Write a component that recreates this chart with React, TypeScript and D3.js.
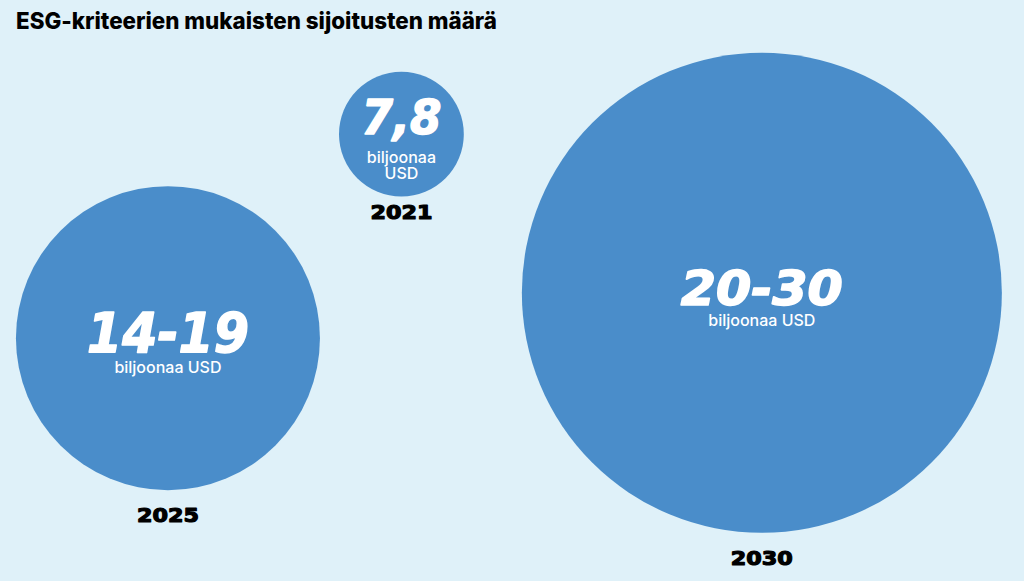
import * as d3 from 'd3'
import { useEffect, useRef } from 'react'

// chart data
const years = ['2021', '2025', '2030']
const valueLabels = ['7,8', '14-19', '20-30']
const upperValues = [7.8, 19, 30]
const unitLabel = 'biljoonaa USD'
const title = 'ESG-kriteerien mukaisten sijoitusten määrä'

// hand placed bubble layout (fractions of chart width / height)
const layoutX = [0.392, 0.164, 0.744]
const layoutY = [0.231, 0.582, 0.504]
const numberSize = [48, 55, 48]
const yearGap = [22, 32, 32]

const width = 1024
const height = 581

export default function App() {
    const svgRef = useRef<SVGSVGElement>(null)

    useEffect(() => {
        if (!svgRef.current) return
        const svg = d3.select(svgRef.current)
        svg.selectAll('*').remove()

        svg.append('rect')
            .attr('width', width)
            .attr('height', height)
            .attr('fill', '#dff1f9')

        svg.append('text')
            .attr('x', 16)
            .attr('y', 29)
            .attr('fill', '#000')
            .style('font-family', 'Inter, "Noto Sans", sans-serif')
            .style('font-weight', 800)
            .style('font-size', '23px')
            .attr('textLength', 481)
            .attr('lengthAdjust', 'spacingAndGlyphs')
            .text(title)

        const x = d3.scaleLinear().domain([0, 1]).range([0, width])
        const y = d3.scaleLinear().domain([0, 1]).range([0, height])
        // radius grows linearly with the upper estimate
        const r = d3.scaleLinear().domain([0, 30]).range([0, 240])

        const data = years.map((year, i) => ({
            year,
            label: valueLabels[i],
            value: upperValues[i],
            cx: x(layoutX[i]),
            cy: y(layoutY[i]),
            size: numberSize[i],
            gap: yearGap[i],
        }))

        const bubble = svg
            .selectAll('.bubble')
            .data(data)
            .enter()
            .append('g')
            .attr('class', 'bubble')
            .attr('transform', (d) => `translate(${d.cx},${d.cy})`)

        bubble
            .append('circle')
            .attr('r', (d) => r(d.value))
            .attr('fill', '#4a8dca')

        // big value label
        bubble
            .append('text')
            .attr('text-anchor', 'middle')
            .attr('y', (d) => (r(d.value) < 100 ? 0 : d.size * 0.25))
            .attr('fill', '#fff')
            .attr('stroke', '#fff')
            .attr('stroke-width', 1.6)
            .attr('stroke-linejoin', 'round')
            .style('font-family', '"DejaVu Sans", sans-serif')
            .style('font-weight', 700)
            .style('font-style', 'italic')
            .style('font-size', (d) => `${d.size}px`)
            .attr('textLength', (d) => (d.label.length === 3 ? 80 : 162))
            .attr('lengthAdjust', 'spacingAndGlyphs')
            .text((d) => d.label)

        // unit label, split into two lines in the small bubble
        bubble.each(function (d) {
            const g = d3.select(this)
            const small = r(d.value) < 100
            const lines = small ? unitLabel.split(' ') : [unitLabel]
            const top = small ? 29 : d.size * 0.25 + 21
            lines.forEach((line, j) => {
                g.append('text')
                    .attr('text-anchor', 'middle')
                    .attr('y', top + j * 16)
                    .attr('fill', '#fff')
                    .style('font-family', 'Inter, "Noto Sans", sans-serif')
                    .style('font-weight', 500)
                    .style('font-size', '16px')
                    .text(line)
            })
        })

        // year under each bubble
        bubble
            .append('text')
            .attr('text-anchor', 'middle')
            .attr('y', (d) => r(d.value) + d.gap)
            .attr('fill', '#000')
            .attr('stroke', '#000')
            .attr('stroke-width', 1.2)
            .attr('stroke-linejoin', 'round')
            .style('font-family', '"DejaVu Sans", sans-serif')
            .style('font-weight', 700)
            .style('font-size', '20px')
            .attr('textLength', 62)
            .attr('lengthAdjust', 'spacingAndGlyphs')
            .text((d) => d.year)
    }, [])

    return (
        <svg
            ref={svgRef}
            width={width}
            height={height}
            style={{ position: 'absolute', left: 0, top: 0 }}
        />
    )
}
